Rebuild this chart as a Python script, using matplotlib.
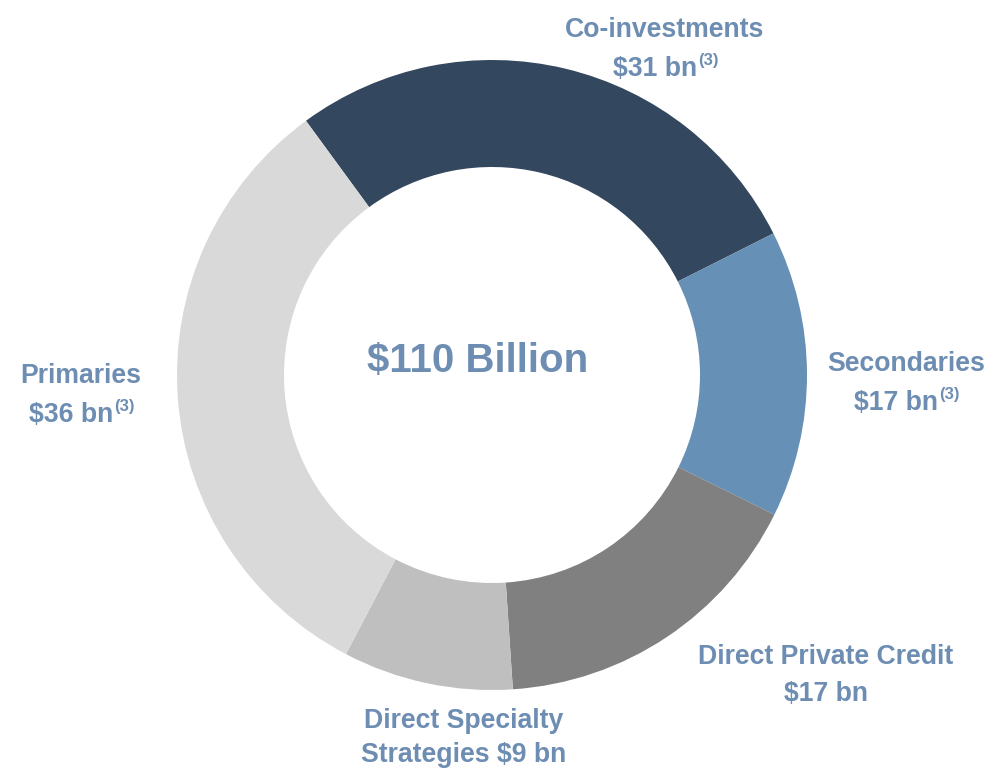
import matplotlib
matplotlib.use("Agg")
import matplotlib.pyplot as plt

categories = ["Co-investments", "Secondaries", "Direct Private Credit",
              "Direct Specialty Strategies", "Primaries"]
# slice sizes as drawn in the ring ($bn)
values = [30.4, 16.2, 18.3, 9.6, 35.5]
# amounts printed in the labels
amount_labels = ["$31 bn", "$17 bn", "$17 bn", "$9 bn", "$36 bn"]
colors = ["#33475f", "#6690b5", "#808080", "#bfbfbf", "#d9d9d9"]
total_label = "$110 Billion"

TXT = "#6d8db2"
FAM = ["Liberation Sans Narrow", "Liberation Sans", "DejaVu Sans"]

W, H = 986, 770
fig = plt.figure(figsize=(W / 100, H / 100), dpi=100)
ax = fig.add_axes([0, 0, 1, 1])

cx, cy, R = 492, H - 375, 315
ax.pie(values, colors=colors, startangle=126.2, counterclock=False,
       center=(cx, cy), radius=R, frame=True,
       wedgeprops=dict(width=107, edgecolor="white", linewidth=0))
ax.set_xlim(0, W)
ax.set_ylim(0, H)
ax.set_aspect("equal")
ax.axis("off")

FS = 19.2
DY = 3

def txt(x, y, s, ha="center", size=FS):
    return ax.text(x, H - y - DY, s, ha=ha, va="center", fontsize=size,
                   fontweight="bold", color=TXT, family=FAM, parse_math=False)

renderer = fig.canvas.get_renderer()

def with_sup(xc, y, main, sup):
    t = txt(0, y, main, ha="left")
    s = ax.text(0, H - y, sup, ha="left", va="center", fontsize=FS * 0.62,
                fontweight="bold", color=TXT, family=FAM, parse_math=False)
    w1 = t.get_window_extent(renderer).width
    w2 = s.get_window_extent(renderer).width
    x0 = xc - (w1 + w2) / 2
    t.set_x(x0)
    s.set_x(x0 + w1 + 1)
    s.set_y(H - y - DY + 8)

# Co-investments
txt(665, 27, categories[0])
with_sup(665, 66, amount_labels[0], "(3)")
# Secondaries
txt(906, 361, categories[1])
with_sup(906, 400, amount_labels[1], "(3)")
# Direct Private Credit
txt(826, 654, categories[2])
txt(826, 691, amount_labels[2])
# Direct Specialty
txt(464, 718, "Direct Specialty")
txt(464, 752, "Strategies " + amount_labels[3])
# Primaries
txt(81, 373, categories[4])
with_sup(81, 412, amount_labels[4], "(3)")

# Center
txt(478, 358, total_label, size=29)

fig.savefig("out.png", dpi=100, facecolor="white")
